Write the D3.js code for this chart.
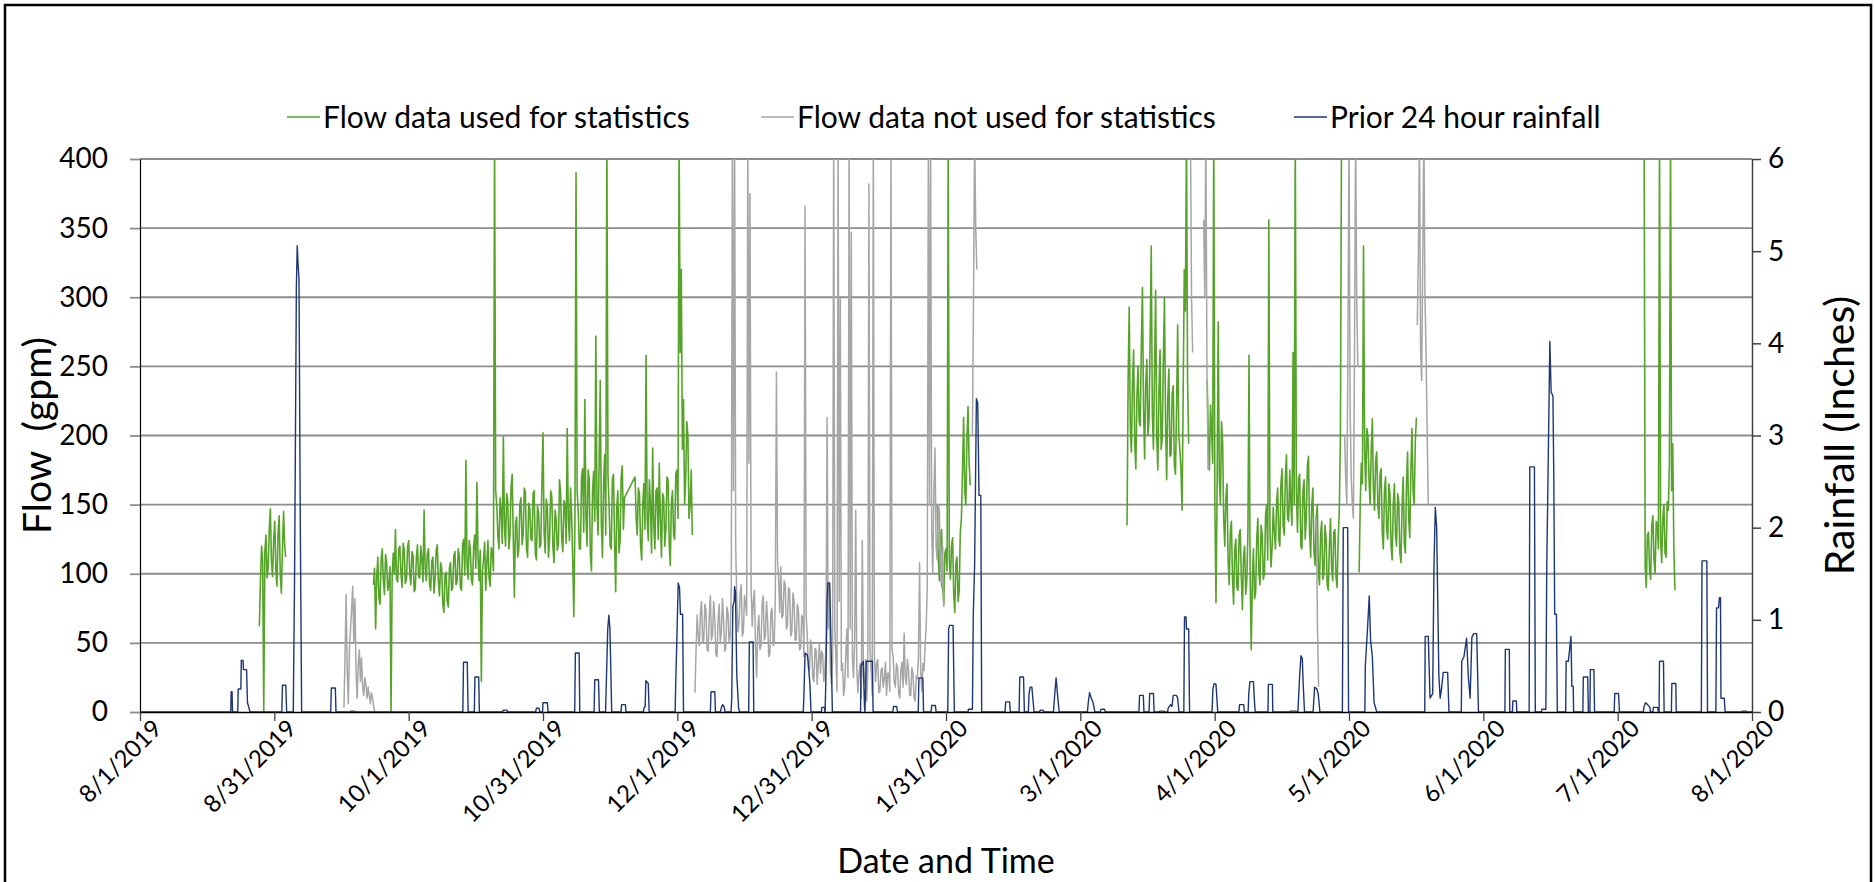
<!DOCTYPE html>
<html>
<head>
<meta charset="utf-8">
<title>Flow and Prior 24 Hour Rainfall</title>
<script src="https://d3js.org/d3.v7.min.js"></script>
<style>
  body { margin: 0; background: #fff; }
  text { font-family: Lato, "Open Sans", sans-serif; fill: #000; }
</style>
</head>
<body>
<script>
// x axis: days since 8/1/2019, major unit 30.5 days as in the source chart
const tickLabels = ['8/1/2019', '8/31/2019', '10/1/2019', '10/31/2019', '12/1/2019', '12/31/2019',
  '1/31/2020', '3/1/2020', '4/1/2020', '5/1/2020', '6/1/2020', '7/1/2020', '8/1/2020'];
const majorUnit = 30.5;
const flowTicks = [0, 50, 100, 150, 200, 250, 300, 350, 400];
const rainTicks = [0, 1, 2, 3, 4, 5, 6];

// flow readings, one every quarter day (gpm). runs start at the day given in *Start
const readingStep = 0.25;

const used1 = [62, 95, 120, 110, 0, 116, 128, 97, 104, 132, 147, 108, 98, 125, 138, 102, 91, 130, 142, 99,
  86, 118, 145, 120, 112];
const used2 = [92, 104, 60, 98, 112, 82, 78, 110, 118, 95, 85, 114, 108, 88, 92, 105,
  0, 98, 115, 100, 132, 96, 94, 118, 120, 101, 90, 122, 117, 93, 96, 119,
  124, 99, 92, 116, 113, 87, 89, 112, 121, 98, 97, 120, 110, 94, 146, 104,
  95, 115, 118, 92, 88, 109, 112, 86, 96, 117, 121, 94, 84, 108, 104, 78,
  72, 99, 101, 80, 76, 104, 108, 88, 90, 113, 116, 92, 94, 118, 113, 90,
  88, 121, 125, 99, 182, 107, 96, 124, 118, 95, 92, 120, 128, 104, 166, 112,
  95, 117, 22, 102, 110, 123, 88, 108, 124, 97, 91, 119, 115, 102, 420, 160,
  150, 128, 118, 155, 146, 122, 199, 134, 120, 158, 152, 118, 128, 163, 172, 126,
  83, 137, 141, 112, 117, 150, 155, 121, 128, 162, 159, 118, 112, 151, 147, 125,
  124, 158, 160, 115, 110, 149, 144, 119, 121, 165, 202, 130, 115, 154, 148, 112,
  126, 160, 156, 120, 108, 146, 139, 117, 122, 168, 158, 125, 116, 153, 150, 122,
  205, 140, 124, 162, 142, 110, 69, 138, 390, 160, 145, 118, 118, 170, 176, 130,
  226, 142, 120, 175, 168, 114, 102, 160, 174, 138, 272, 150, 128, 182, 240, 136,
  112, 165, 186, 128, 420, 172, 150, 120, 118, 168, 172, 124, 87, 148, 160, 115,
  124, 170, 178, 132, 155];
const used3 = [170, 140, 128, 162, 158, 121, 110, 150, 165, 132, 258, 140, 124, 168, 150, 115, 191, 136,
  118, 160, 162, 125, 180, 138, 112, 158, 155, 120, 132, 170, 168, 122, 106, 152, 160, 128, 125, 172,
  175, 140, 420, 260, 320, 190, 226, 150, 168, 210, 200, 140, 150, 175, 128];
const used4 = [150, 112, 95, 128, 132, 90, 78, 115, 118, 102, 420, 110, 96, 120, 126, 85, 72, 108, 112, 80,
  88, 130, 140, 175, 213, 160, 150, 196, 221, 180, 164];
const used5 = [135, 240, 293, 205, 188, 240, 262, 195, 176, 228, 250, 210, 207, 265, 307, 220,
  183, 238, 255, 200, 212, 270, 337, 215, 190, 248, 305, 198, 175, 232, 262, 190,
  198, 255, 300, 210, 168, 226, 248, 185, 186, 230, 236, 178, 172, 220, 280, 200,
  190, 175, 146, 230, 320, 290, 420, 240, 194];
const used6 = [240, 200, 175, 222, 205, 180, 420, 150, 79, 160, 282, 170, 150, 210, 196, 140, 120, 155, 165, 110,
  92, 130, 138, 96, 78, 118, 125, 90, 88, 128, 132, 98, 74, 112, 120, 85, 95, 130, 258, 100,
  45, 95, 118, 82, 86, 125, 140, 100, 92, 135, 128, 96, 100, 142, 150, 110, 356, 130, 105, 120,
  148, 130, 118, 150, 162, 125, 120, 165, 176, 135, 128, 170, 186, 140, 138, 175, 150, 135, 260, 150,
  420, 160, 130, 168, 172, 120, 118, 160, 168, 125, 140, 178, 185, 130, 112, 150, 162, 115, 106, 140,
  150, 102, 92, 128, 138, 96, 100, 135, 126, 92, 88, 120, 140, 105, 95, 130, 132, 98, 90, 125,
  146, 200, 420];
const used7 = [101, 150, 180, 165, 337, 190, 160, 205, 199, 168, 150, 190, 212, 160, 146, 182, 188, 150, 140, 172,
  176, 130, 118, 160, 170, 132, 125, 165, 158, 120, 110, 150, 165, 128, 120, 158, 152, 115, 108, 148,
  170, 122, 115, 165, 188, 140, 126, 175, 205, 160, 150, 195, 213];
const used8 = [420, 105, 90, 128, 130, 102, 96, 135, 142, 110, 100, 138, 135, 118, 420, 125, 108, 140, 150, 115,
  112, 152, 146, 180, 420, 160, 194, 120, 88];
const usedStart = [27.1, 53.0, 112.4, 181.0, 224.1, 242.3, 276.8, 341.5];
const usedRuns = [used1, used2, used3, used4, used5, used6, used7, used8];
const usedJoined = [2]; // run bridged to the previous one across missing data

const notUsed1 = [3, 40, 85, 30, 6, 45, 60, 75, 91, 50, 82, 30, 10, 35, 45, 22, 39, 18, 12, 25,
  20, 10, 18, 12, 6, 14, 10, 4, 0];
const notUsed2 = [14, 45, 70, 55, 48, 72, 80, 50, 52, 78, 74, 45, 44, 70, 84, 52, 56, 80, 68, 42,
  40, 66, 78, 50, 58, 82, 66, 44, 46, 76, 72, 50, 55, 90, 420, 160, 420, 120, 82, 58,
  64, 85, 92, 55, 58, 84, 78, 70, 420, 180, 375, 90, 62, 80, 88, 48, 25, 60, 70, 45,
  48, 78, 84, 52, 55, 80, 66, 40, 42, 72, 75, 48, 50, 85, 246, 110, 96, 72, 105, 68,
  70, 95, 92, 60, 62, 90, 88, 55, 58, 86, 80, 52, 52, 78, 74, 45, 46, 70, 68, 40,
  366, 70, 55, 32, 30, 52, 48, 25, 22, 46, 45, 20, 35, 50, 28, 44, 42, 22, 30, 48,
  213, 60, 92, 30, 20, 38, 420, 60, 40, 15, 420, 80, 299, 30, 35, 12, 18, 42, 60, 25,
  420, 60, 347, 40, 25, 50, 146, 30, 14, 28, 35, 10, 124, 25, 20, 38, 8, 30, 382, 45,
  30, 12, 420, 40, 22, 35, 38, 14, 15, 30, 32, 18, 24, 36, 12, 28, 28, 15, 420, 45,
  40, 22, 18, 35, 32, 14, 10, 30, 36, 18, 57, 25, 20, 38, 30, 12, 12, 32, 28, 10,
  8, 26, 24, 40, 108, 30, 15, 35, 30, 48, 62, 90, 420, 150, 420, 130, 100, 160, 191, 120,
  110, 150, 146, 100, 90, 120, 76];
const notUsed3 = [200, 300, 420, 350, 320];
const notUsed4 = [420, 300, 260];
const notUsed5 = [356, 300, 420, 250, 175];
const notUsed6 = [140, 60, 18];
const notUsed7 = [200, 170, 150, 260, 420, 220, 170, 150, 140, 260, 420, 300, 250];
const notUsed8 = [280, 330, 420, 260, 240, 330, 420, 300, 260, 200, 150];
const notUsedStart = [46.3, 126.0, 189.0, 238.5, 241.5, 267.1, 273.5, 290.0];
const notUsedRuns = [notUsed1, notUsed2, notUsed3, notUsed4, notUsed5, notUsed6, notUsed7, notUsed8];

// prior 24 hour rainfall: [day since 8/1/2019, inches]
const rainfall = [
  [0, 0], [20.6, 0], [20.7, 0.22], [20.9, 0.22], [21.0, 0],
  [22.2, 0], [22.3, 0.25], [22.9, 0.25], [23.0, 0.56], [23.4, 0.56], [23.5, 0.46], [24.2, 0.46], [24.4, 0.1], [25.0, 0],
  [32.2, 0], [32.35, 0.29], [33.1, 0.29], [33.3, 0],
  [34.8, 0], [35.1, 1.5], [35.5, 4.6], [35.7, 5.06], [35.9, 4.85], [36.1, 4.7], [36.4, 2.0], [36.7, 0],
  [43.3, 0], [43.45, 0.26], [44.35, 0.26], [44.5, 0],
  [47.8, 0], [47.9, 0.01], [48.6, 0.01], [48.7, 0],
  [73.3, 0], [73.45, 0.54], [74.3, 0.54], [74.5, 0],
  [75.9, 0], [76.05, 0.38], [76.9, 0.38], [77.05, 0],
  [82.3, 0], [82.5, 0.02], [83.3, 0.02], [83.5, 0],
  [89.8, 0], [90.0, 0.04], [90.6, 0.04], [90.8, 0], [91.4, 0], [91.5, 0.1], [92.5, 0.1], [92.65, 0],
  [98.7, 0], [98.85, 0.64], [99.7, 0.64], [99.85, 0],
  [103.1, 0], [103.25, 0.35], [104.1, 0.35], [104.3, 0],
  [105.7, 0], [106.2, 0.9], [106.45, 1.05], [106.7, 0.9], [107.1, 0],
  [109.2, 0], [109.35, 0.08], [110.2, 0.08], [110.35, 0],
  [114.3, 0], [114.4, 0.04], [114.7, 0.06], [114.85, 0.34], [115.4, 0.31], [115.6, 0],
  [121.5, 0], [121.65, 0.34], [121.9, 0.8], [122.2, 1.4], [122.5, 1.35], [122.7, 1.06], [123.2, 1.06], [123.4, 0],
  [129.5, 0], [129.65, 0.22], [130.5, 0.22], [130.65, 0],
  [131.8, 0], [132.0, 0.05], [132.3, 0.08], [132.6, 0.06], [132.85, 0],
  [134.2, 0], [134.35, 0.15], [134.6, 1.15], [134.9, 1.2], [135.0, 1.36], [135.2, 1.3], [135.5, 0.4], [135.9, 0.05], [136.1, 0],
  [138.2, 0], [138.35, 0.76], [139.2, 0.76], [139.35, 0],
  [150.6, 0], [150.75, 0.2], [151.0, 0.64], [151.5, 0.62], [151.7, 0.55], [152.1, 0.3], [152.35, 0],
  [154.7, 0], [154.8, 0.05], [155.4, 0.05], [155.5, 0],
  [155.55, 0], [155.7, 0.3], [156.0, 1.2], [156.2, 1.4], [156.6, 1.4], [157.0, 0.5], [157.2, 0],
  [163.6, 0], [163.7, 0.5], [164.2, 0.55], [164.5, 0.05], [164.6, 0], [164.9, 0.55], [166.3, 0.55], [166.45, 0],
  [170.9, 0], [171.1, 0.06], [171.8, 0.06], [172.0, 0],
  [176.7, 0], [176.85, 0.37], [177.75, 0.37], [177.9, 0],
  [179.6, 0], [179.75, 0.07], [180.6, 0.07], [180.75, 0],
  [183.4, 0], [183.6, 0.9], [183.8, 0.94], [184.6, 0.94], [184.9, 0],
  [188.0, 0], [188.1, 0.03], [189.0, 0.03], [189.2, 1.07], [189.5, 1.6], [189.9, 3.4], [190.2, 3.35], [190.5, 2.35], [190.9, 2.35], [191.1, 0],
  [196.4, 0], [196.55, 0.11], [197.45, 0.11], [197.6, 0],
  [199.6, 0], [199.75, 0.38], [200.6, 0.38], [200.8, 0],
  [201.7, 0], [201.85, 0.2], [202.1, 0.27], [202.5, 0.27], [202.8, 0.1], [203.0, 0],
  [204.2, 0], [204.4, 0.02], [205.0, 0.02], [205.2, 0],
  [207.4, 0], [207.7, 0.2], [208.0, 0.37], [208.3, 0.2], [208.7, 0],
  [215.1, 0], [215.3, 0.1], [215.6, 0.21], [216.0, 0.15], [216.4, 0.1], [216.8, 0],
  [218.0, 0], [218.2, 0.03], [219.0, 0.03], [219.2, 0],
  [226.8, 0], [226.95, 0.18], [227.8, 0.18], [227.95, 0],
  [229.1, 0], [229.25, 0.2], [230.1, 0.2], [230.25, 0],
  [231.4, 0], [231.6, 0.01], [232.4, 0.01], [232.6, 0],
  [233.3, 0], [233.5, 0.05], [234.0, 0.08], [234.3, 0.06], [234.6, 0.18], [235.3, 0.18], [235.6, 0.15], [235.9, 0],
  [237.0, 0], [237.15, 1.03], [237.5, 1.03], [237.6, 0.9], [238.1, 0.9], [238.3, 0],
  [243.4, 0], [243.6, 0.25], [243.9, 0.31], [244.3, 0.3], [244.7, 0],
  [249.5, 0], [249.65, 0.08], [250.6, 0.08], [250.75, 0],
  [251.6, 0], [251.75, 0.2], [252.0, 0.33], [252.8, 0.33], [253.0, 0.15], [253.2, 0],
  [256.1, 0], [256.2, 0.3], [257.1, 0.3], [257.2, 0],
  [261.1, 0], [261.3, 0.01], [262.4, 0.01], [262.6, 0],
  [262.9, 0], [263.3, 0.4], [263.6, 0.61], [263.9, 0.58], [264.1, 0.3], [264.4, 0],
  [266.3, 0], [266.4, 0.04], [266.7, 0.27], [267.2, 0.25], [267.5, 0.2], [267.9, 0],
  [273.0, 0], [273.2, 2.0], [274.2, 2.0], [274.4, 0],
  [278.1, 0], [278.2, 0.5], [278.7, 0.9], [279.1, 1.26], [279.4, 0.78], [279.8, 0.6], [280.2, 0.1], [280.8, 0],
  [291.7, 0], [291.8, 0.82], [292.5, 0.82], [292.9, 0.15], [293.5, 0.2], [293.8, 1.6], [294.1, 2.22], [294.4, 2.0],
  [294.9, 0.4], [295.2, 0.15], [295.5, 0.25], [295.9, 0.43], [296.9, 0.43], [297.2, 0],
  [300.0, 0], [300.1, 0.55], [300.6, 0.6], [301.2, 0.8], [301.6, 0.38], [302.0, 0.15], [302.4, 0.81], [302.8, 0.85], [303.5, 0.85], [303.9, 0],
  [309.9, 0], [310.0, 0.68], [310.9, 0.68], [311.0, 0],
  [311.6, 0], [311.7, 0.12], [312.5, 0.12], [312.6, 0],
  [315.4, 0], [315.55, 2.66], [316.6, 2.66], [316.8, 0],
  [318.2, 0], [318.3, 0.03], [319.2, 0.03], [319.4, 1.58], [319.7, 2.6], [320.1, 4.02], [320.4, 3.47], [320.8, 3.43], [321.0, 2.55], [321.2, 1.06], [321.6, 1.06], [321.8, 0],
  [323.7, 0], [323.8, 0.55], [324.3, 0.55], [324.9, 0.82], [325.1, 0.28], [325.4, 0.28], [325.5, 0],
  [327.6, 0], [327.7, 0.38], [328.7, 0.38], [328.85, 0],
  [329.2, 0], [329.3, 0.46], [330.1, 0.46], [330.25, 0],
  [334.7, 0], [334.85, 0.2], [335.7, 0.2], [335.9, 0],
  [341.3, 0], [341.5, 0.06], [341.8, 0.1], [342.3, 0.08], [342.8, 0.05], [342.95, 0],
  [343.5, 0], [343.6, 0.05], [344.6, 0.05], [344.75, 0],
  [344.9, 0], [345.0, 0.55], [345.9, 0.55], [346.05, 0],
  [347.7, 0], [347.8, 0.31], [348.7, 0.31], [348.8, 0],
  [354.5, 0], [354.65, 1.64], [355.75, 1.64], [355.9, 0],
  [357.8, 0], [357.95, 1.13], [358.4, 1.13], [358.6, 1.24], [358.85, 1.24], [358.95, 0.15], [359.7, 0.15], [359.9, 0],
  [363.7, 0], [363.9, 0.01], [364.6, 0.01], [364.8, 0], [366, 0]
];

const W = 1875, H = 882;
const plot = { left: 140, right: 1752, top: 159, bottom: 712 };
const green = '#56a32a', grey = '#a6a6a6', navy = '#1d3775';

const t0 = new Date(Date.UTC(2019, 7, 1));
const t1 = new Date(Date.UTC(2020, 7, 1));
const toDate = d => new Date(t0.getTime() + d * 864e5);

const x = d3.scaleUtc().domain([t0, t1]).range([plot.left, plot.right]);
const yFlow = d3.scaleLinear().domain([0, 400]).range([plot.bottom, plot.top]);
const yRain = d3.scaleLinear().domain([0, 6]).range([plot.bottom, plot.top]);

const svg = d3.select('body').append('svg')
  .attr('width', W).attr('height', H);

svg.append('rect').attr('width', W).attr('height', H).attr('fill', '#fff');
svg.append('rect')
  .attr('x', 5).attr('y', 5).attr('width', W - 9).attr('height', H + 40)
  .attr('fill', 'none').attr('stroke', '#000').attr('stroke-width', 2.5);

svg.append('clipPath').attr('id', 'plotclip')
  .append('rect')
  .attr('x', plot.left).attr('y', plot.top)
  .attr('width', plot.right - plot.left).attr('height', plot.bottom - plot.top);

// horizontal gridlines
svg.append('g').selectAll('line')
  .data(flowTicks.slice(1))
  .join('line')
  .attr('x1', plot.left).attr('x2', plot.right)
  .attr('y1', d => yFlow(d)).attr('y2', d => yFlow(d))
  .attr('stroke', '#8c8c8c').attr('stroke-width', 1.8);

// turn runs into point lists, one list per drawn line
function buildLines(runs, starts, joined) {
  const lines = [];
  runs.forEach((vals, i) => {
    const pts = vals.map((v, j) => [starts[i] + j * readingStep, v]);
    if (joined.includes(i)) lines[lines.length - 1].push(...pts);
    else lines.push(pts);
  });
  return lines;
}

const flowLine = d3.line()
  .x(d => x(toDate(d[0])))
  .y(d => yFlow(d[1]));

const series = svg.append('g').attr('clip-path', 'url(#plotclip)');

series.selectAll('path.used')
  .data(buildLines(usedRuns, usedStart, usedJoined))
  .join('path')
  .attr('class', 'used')
  .attr('d', flowLine)
  .attr('fill', 'none').attr('stroke', green).attr('stroke-width', 1.6)
  .attr('stroke-linejoin', 'round');

series.selectAll('path.notused')
  .data(buildLines(notUsedRuns, notUsedStart, []))
  .join('path')
  .attr('class', 'notused')
  .attr('d', flowLine)
  .attr('fill', 'none').attr('stroke', grey).attr('stroke-width', 1.5)
  .attr('stroke-linejoin', 'round');

series.append('path')
  .datum(rainfall)
  .attr('d', d3.line().x(d => x(toDate(d[0]))).y(d => yRain(d[1])))
  .attr('fill', 'none').attr('stroke', navy).attr('stroke-width', 1.4)
  .attr('stroke-linejoin', 'round');

// axes
const xAxis = d3.axisBottom(x)
  .tickValues(tickLabels.map((_, i) => toDate(i * majorUnit)))
  .tickFormat((d, i) => tickLabels[i])
  .tickSize(9).tickSizeOuter(0);

const gx = svg.append('g')
  .attr('transform', `translate(0,${plot.bottom})`)
  .call(xAxis);
gx.select('.domain').attr('stroke', '#000').attr('stroke-width', 1.5);
gx.selectAll('.tick line').attr('stroke', '#404040').attr('stroke-width', 1.3);
gx.selectAll('.tick text')
  .attr('x', 0).attr('y', 0).attr('dy', '0.35em')
  .attr('text-anchor', 'end')
  .attr('transform', 'translate(17,12) rotate(-45)')
  .style('font-size', '24px').style('font-family', 'Lato, sans-serif').attr('fill', '#000');

const gl = svg.append('g')
  .attr('transform', `translate(${plot.left},0)`)
  .call(d3.axisLeft(yFlow).tickValues(flowTicks).tickSize(10).tickPadding(22).tickSizeOuter(0));
gl.select('.domain').attr('stroke', '#000').attr('stroke-width', 1.2);
gl.selectAll('.tick line').attr('stroke', '#8c8c8c').attr('stroke-width', 1.8);
gl.selectAll('.tick text')
  .style('font-size', '28px').style('font-family', 'Lato, sans-serif').attr('fill', '#000');

const gr = svg.append('g')
  .attr('transform', `translate(${plot.right},0)`)
  .call(d3.axisRight(yRain).tickValues(rainTicks).tickFormat(d3.format('d'))
    .tickSize(9).tickPadding(7).tickSizeOuter(0));
gr.select('.domain').attr('stroke', '#404040').attr('stroke-width', 1.5);
gr.selectAll('.tick line').attr('stroke', '#404040').attr('stroke-width', 1.5);
gr.selectAll('.tick text')
  .style('font-size', '28px').style('font-family', 'Lato, sans-serif').attr('fill', '#000');

// axis titles
svg.append('text')
  .attr('transform', `translate(36,${(plot.top + plot.bottom) / 2}) rotate(-90)`)
  .attr('text-anchor', 'middle').attr('dominant-baseline', 'central')
  .style('white-space', 'pre').style('font-size', '39px')
  .text('Flow  (gpm)');

svg.append('text')
  .attr('transform', `translate(1838,${(plot.top + plot.bottom) / 2}) rotate(-90)`)
  .attr('text-anchor', 'middle').attr('dominant-baseline', 'central')
  .style('font-size', '41px')
  .text('Rainfall (Inches)');

svg.append('text')
  .attr('x', (plot.left + plot.right) / 2).attr('y', 873)
  .attr('text-anchor', 'middle')
  .style('font-size', '34px')
  .text('Date and Time');

// legend
const legendItems = [
  { label: 'Flow data used for statistics', color: green, x: 287 },
  { label: 'Flow data not used for statistics', color: grey, x: 761 },
  { label: 'Prior 24 hour rainfall', color: navy, x: 1294 }
];
const lg = svg.append('g').selectAll('g')
  .data(legendItems)
  .join('g')
  .attr('transform', d => `translate(${d.x},117)`);
lg.append('line')
  .attr('x1', 0).attr('x2', 33)
  .attr('stroke', d => d.color).attr('stroke-width', 1.6);
lg.append('text')
  .attr('x', 36).attr('dy', '0.35em')
  .style('font-size', '30px')
  .text(d => d.label);
</script>
</body>
</html>
